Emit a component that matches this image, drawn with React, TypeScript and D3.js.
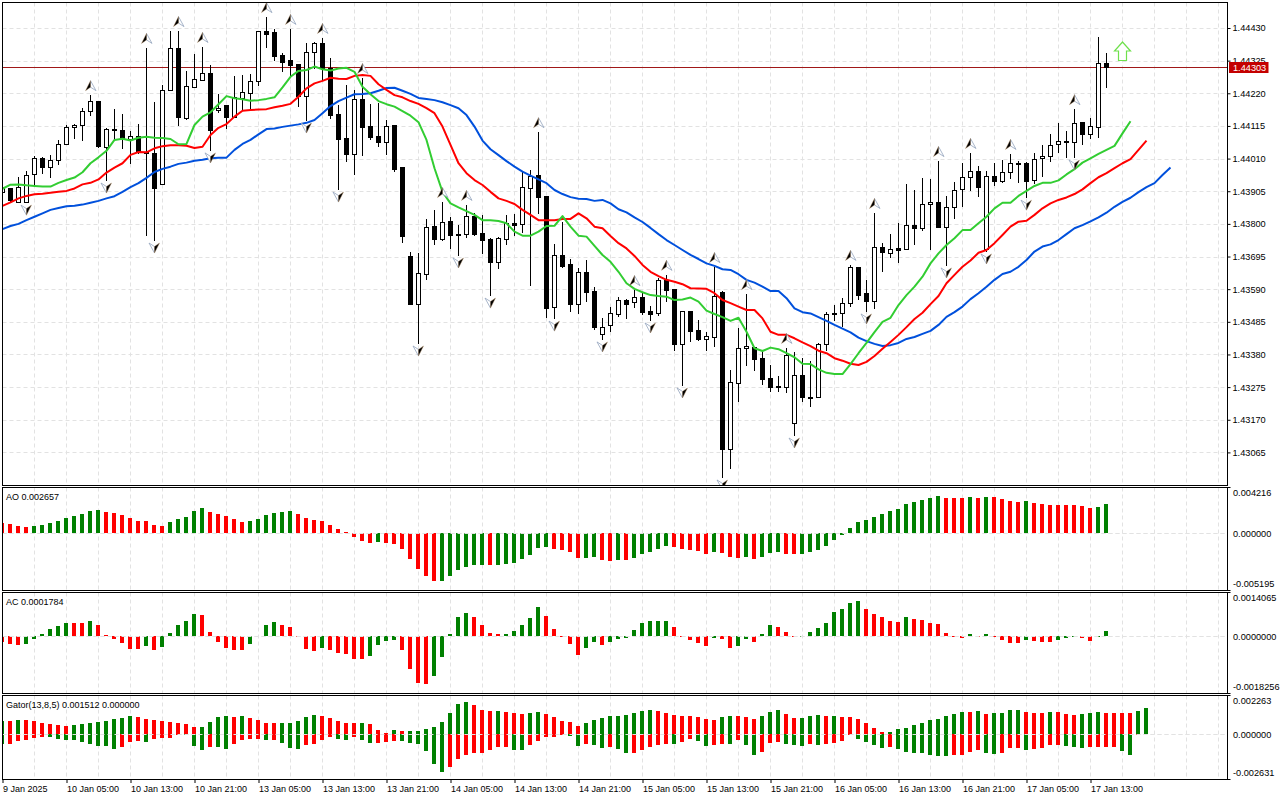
import * as d3 from 'd3'
import { useEffect, useRef } from 'react'

// prices are stored in points (1e-5)
const opens = [
  143903,143915,143870,143870,143960,144012,143983,144005,144057,144112,
  144118,144163,144195,144047,144105,144102,144073,144083,144028,144028,
  143928,144231,144366,144141,144240,144263,144285,144166,144182,144144,
  144205,144221,144260,144420,144417,144343,144327,144314,144211,144353,
  144382,144301,144153,144076,144025,144202,144115,144083,144063,144118,
  143983,143697,143542,143639,143793,143751,143809,143767,143767,143825,
  143771,143751,143677,143751,143803,143800,143915,143957,143890,143533,
  143700,143671,143542,143645,143584,143446,143475,143510,143555,143549,
  143565,143520,143513,143620,143591,143414,143520,143459,143430,143436,
  143581,143076,143288,143401,143404,143369,143304,143279,143275,143160,
  143314,143243,143243,143414,143510,143513,143546,143661,143578,143552,
  143726,143706,143722,143719,143796,143787,143864,143870,143790,143854,
  143912,143951,143970,143719,143954,143938,143967,143993,143996,143941,
  144012,144018,144057,144067,144063,144128,144089,144112,144317
]
const highs = [
  143928,143915,143951,143970,144018,144015,144022,144070,144118,144121,
  144173,144214,144195,144108,144169,144153,144099,144121,144366,144192,
  144247,144420,144420,144292,144346,144369,144311,144218,144182,144276,
  144279,144282,144420,144465,144427,144350,144427,144314,144382,144385,
  144398,144333,144182,144247,144231,144269,144186,144189,144134,144118,
  143983,143710,143706,143816,143845,143870,143822,143796,143861,143835,
  143829,143755,143758,143829,143832,143967,143973,144095,143890,143735,
  143806,143687,143658,143684,143597,143497,143533,143565,143558,143587,
  143578,143536,143626,143636,143591,143520,143520,143491,143452,143661,
  143584,143330,143465,143574,143404,143394,143346,143311,143401,143388,
  143369,143359,143417,143517,143539,143562,143668,143661,143620,143835,
  143739,143767,143803,143928,143909,143948,143944,144002,143890,143935,
  143996,144028,143986,143970,143996,144005,144025,144002,143999,144028,
  144054,144089,144124,144099,144169,144128,144141,144401,144350
]
const lows = [
  143893,143870,143870,143870,143925,143964,143951,143993,144057,144076,
  144070,144150,144047,143941,144070,144044,143996,144028,143764,143748,
  143928,144231,144118,144137,144240,144263,144038,144160,144108,144144,
  144166,144166,144247,144369,144327,144292,144272,144179,144134,144301,
  144263,144141,143912,144002,143960,144022,144073,144050,144025,143970,
  143742,143542,143417,143623,143735,143748,143722,143700,143758,143764,
  143706,143571,143658,143735,143764,143774,143603,143835,143501,143497,
  143661,143520,143513,143552,143462,143430,143456,143504,143497,143533,
  143510,143491,143507,143552,143394,143282,143423,143427,143394,143407,
  142986,143015,143230,143346,143330,143285,143263,143263,143259,143121,
  143230,143214,143243,143394,143491,143472,143536,143558,143520,143529,
  143648,143693,143677,143719,143735,143780,143719,143790,143668,143819,
  143858,143909,143890,143713,143925,143935,143948,143935,143886,143931,
  143954,144002,144031,144015,144015,144057,144076,144079,144240
]
const closes = [
  143918,143877,143919,143957,144012,143983,144005,144057,144112,144118,
  144163,144195,144050,144105,144102,144076,144083,144031,144031,143915,
  144231,144366,144144,144243,144266,144285,144102,144173,144144,144208,
  144224,144260,144420,144411,144340,144321,144311,144211,144353,144382,
  144301,144150,144073,144025,144202,144112,144079,144063,144115,143977,
  143761,143542,143642,143790,143751,143806,143764,143764,143825,143767,
  143748,143677,143755,143803,143796,143919,143954,143886,143529,143700,
  143665,143542,143645,143581,143468,143468,143513,143555,143542,143565,
  143517,143510,143620,143587,143414,143520,143456,143430,143439,143568,
  143076,143291,143401,143407,143365,143301,143275,143275,143378,143314,
  143243,143240,143414,143510,143513,143546,143661,143571,143552,143726,
  143710,143719,143716,143796,143787,143864,143870,143790,143854,143909,
  143951,143970,143919,143954,143938,143967,143996,143996,143938,144009,
  144018,144054,144067,144063,144124,144089,144115,144317,144303
]

// Alligator lines, shifted forward past the last bar
const jaw = [
  143783,143793,143800,143812,143823,143834,143845,143851,143857,143858,
  143862,143868,143874,143882,143889,143903,143918,143931,143948,143967,
  143977,143984,143993,143997,144003,144006,144011,144013,144013,144038,
  144057,144070,144088,144105,144107,144112,144116,144120,144125,144134,
  144156,144179,144195,144206,144217,144218,144220,144228,144237,144238,
  144228,144218,144205,144202,144198,144191,144182,144172,144150,144113,
  144068,144040,144021,144002,143984,143968,143955,143943,143931,143909,
  143896,143886,143881,143880,143874,143877,143866,143847,143837,143821,
  143806,143787,143767,143748,143732,143716,143700,143687,143673,143665,
  143654,143652,143638,143620,143611,143598,143584,143584,143561,143528,
  143516,143512,143500,143488,143475,143463,143451,143434,143423,143414,
  143407,143410,143417,143430,143436,143446,143456,143475,143501,143516,
  143534,143558,143577,143598,143620,143639,143646,143662,143684,143711,
  143727,143734,143748,143767,143786,143796,143808,143821,143836,143855,
  143871,143884,143902,143918,143931,143957,143981
]
const teeth = [
  143858,143869,143882,143890,143895,143897,143900,143903,143906,143914,
  143927,143932,143943,143965,143981,143995,144022,144031,144030,144043,
  144050,144053,144053,144051,144044,144048,144086,144109,144121,144145,
  144164,144166,144168,144169,144175,144180,144186,144209,144236,144252,
  144260,144270,144267,144266,144276,144279,144276,144249,144231,144214,
  144207,144195,144186,144172,144156,144113,144054,143995,143963,143941,
  143925,143903,143882,143874,143864,143845,143829,143812,143812,143812,
  143816,143816,143834,143818,143791,143786,143761,143738,143721,143697,
  143668,143646,143632,143620,143614,143606,143593,143592,143591,143577,
  143555,143545,143534,143523,143523,143496,143453,143443,143443,143432,
  143419,143407,143392,143384,143368,143360,143350,143346,143356,143375,
  143398,143420,143443,143468,143494,143514,143542,143568,143609,143636,
  143662,143682,143707,143716,143738,143764,143791,143807,143810,143829,
  143850,143866,143877,143885,143896,143911,143931,143950,143963,143979,
  143995,144008,144038,144068
]
const lips = [
  143913,143926,143927,143924,143922,143920,143920,143932,143941,143949,
  143966,143995,144014,144035,144070,144074,144068,144077,144080,144077,
  144076,144073,144056,144057,144118,144145,144159,144185,144211,144204,
  144201,144196,144198,144202,144207,144239,144273,144292,144295,144306,
  144297,144293,144300,144302,144289,144241,144217,144195,144185,144177,
  144163,144148,144127,144070,143979,143903,143866,143853,143841,143829,
  143812,143812,143809,143802,143775,143762,143762,143775,143793,143794,
  143825,143791,143762,143759,143729,143700,143678,143646,143609,143591,
  143580,143571,143568,143566,143555,143557,143563,143550,143521,143510,
  143500,143488,143498,143453,143400,143391,143402,143397,143384,143371,
  143350,143349,143332,143321,143317,143317,143349,143384,143417,143452,
  143485,143498,143539,143571,143598,143630,143673,143705,143732,143754,
  143780,143780,143802,143823,143850,143868,143868,143890,143906,143922,
  143932,143932,143940,143959,143976,143997,144011,144025,144038,144051,
  144091,144130
]

const upFractalBars = [11, 18, 22, 25, 33, 36, 40, 45, 55, 58, 67, 79, 83, 89, 93, 98, 106, 109, 117, 121, 126, 134]
const downFractalBars = [3, 13, 19, 26, 38, 42, 52, 57, 61, 69, 75, 81, 85, 90, 99, 108, 118, 123, 128, 134]
const buyArrowBar = 140
const buyArrowPrice = 144356
const lastPrice = 144303

const priceTicks = [144430, 144325, 144220, 144115, 144010, 143905, 143800, 143695, 143590, 143485, 143380, 143275, 143170, 143065]

// AO in 1e-6
const aoValues = [
  906,846,664,574,664,755,936,1117,1389,1570,
  1752,2023,2114,1933,1842,1661,1389,1117,1117,755,
  664,1027,1299,1480,2023,2295,1933,1752,1570,1299,
  1027,1117,1299,1661,1842,1933,2023,1752,1389,1208,
  1117,755,393,91,-332,-695,-876,-785,-876,-966,
  -1419,-2325,-3231,-3866,-4319,-4319,-3866,-3322,-3050,-2869,
  -2869,-2869,-2869,-2778,-2688,-2325,-1963,-1329,-1238,-1419,
  -1510,-1691,-2235,-2235,-2144,-2416,-2507,-2416,-2416,-2235,
  -1872,-1691,-1419,-1148,-1238,-1419,-1510,-1601,-1872,-1691,
  -1782,-2144,-2235,-2144,-2325,-2144,-1782,-1691,-1872,-1872,
  -1872,-1691,-1510,-1148,-604,-121,483,1027,1208,1480,
  1752,2023,2205,2657,2839,3020,3201,3382,3201,3201,
  3201,3292,3201,3292,3292,3111,2929,2839,2929,2748,
  2657,2567,2567,2567,2567,2476,2295,2386,2657
]
const aoColors = 'rrrr' + 'ggggggggg' + 'rrrrrrrr' + 'ggggg' + 'rrrrr' + 'gggggg' + 'rrrrrrrrrr' + 'g' + 'rrrrrrr' + 'gggggg' + 'r' + 'ggggggg' +
  'rrrr' + 'gg' + 'rr' + 'g' + 'r' + 'ggggg' + 'rrrrr' + 'g' + 'rrr' + 'g' + 'r' + 'ggg' + 'rr' + 'gggggggggggggggggg' +
  'rrr' + 'g' + 'r' + 'g' + 'rrrr' + 'g' + 'rrrrrrrr' + 'gg'

// AC in 1e-7
const acValues = [
  -1819,-2461,-2782,-2461,-856,749,2354,3317,4280,4280,
  4280,4922,3638,321,-856,-2140,-4066,-4066,-3103,-4387,
  -3424,1070,3638,4922,7169,6848,1391,-1819,-3745,-4387,
  -4387,-2461,214,3638,4601,3638,2996,-321,-4066,-4708,
  -3745,-4387,-5350,-5671,-7276,-7276,-6313,-2782,-1498,-1177,
  -4387,-10486,-14980,-15301,-12733,-6634,749,6206,7490,6206,
  3638,1070,749,749,1712,3638,5885,9416,6527,2354,
  -107,-2461,-5992,-3745,-1819,-2782,-1819,-856,-428,2033,
  4280,4922,4922,4922,2996,-214,-1177,-2140,-3103,-535,
  -856,-3745,-3103,-856,-1819,749,3638,2996,1391,-107,
  -107,1391,2675,4280,7811,8774,10700,11342,8774,7169,
  6206,4922,4601,6206,5564,5243,4280,3959,1070,-214,
  -535,642,-214,642,-214,-1177,-2140,-2140,-1177,-1498,
  -1819,-1819,-1177,-535,-214,-535,-1498,-214,1784
]
const acColors = 'rrr' + 'gggggg' + 'rr' + 'g' + 'rrrrrr' + 'g' + 'r' + 'ggggg' + 'rrrrrr' + 'gggg' + 'rrrrr' + 'g' + 'rrrrr' + 'gggg' + 'rrrr' +
  'ggggg' + 'rrrr' + 'ggggg' + 'rrrrr' + 'gg' + 'r' + 'gggggggg' + 'rrrrr' + 'g' + 'rr' + 'gg' + 'r' + 'gg' + 'rrr' + 'gggggggg' +
  'rrrrr' + 'g' + 'rrrrrrr' + 'grg' + 'rrrr' + 'g' + 'rrr' + 'ggg' + 'rr' + 'gg'

// Gator in 1e-6, lower side already negative
const gatorUp = [
  761,761,819,819,761,644,585,527,468,527,
  585,644,702,761,878,936,1053,995,878,819,
  761,702,644,585,410,410,702,995,1053,995,
  1053,936,819,644,644,644,644,761,995,1112,
  1053,936,761,644,644,644,585,234,58,234,
  176,176,176,293,410,702,1229,1755,1872,1697,
  1404,1346,1346,1287,1229,1170,1229,1287,1170,995,
  761,702,468,644,819,936,1053,1053,1112,1229,
  1346,1404,1346,1229,1112,1053,1053,995,878,819,
  995,1053,1053,995,878,1053,1287,1404,1170,936,
  936,1053,1112,1053,1053,995,995,878,644,351,
  117,117,293,351,527,644,819,878,1053,1170,
  1287,1287,1346,1170,1229,1229,1404,1404,1287,1229,
  1229,1287,1287,1170,1112,1170,1229,1287,1229,1229,
  1229,1229,1346,1512
]
const gatorDown = [
  -585,-585,-410,-351,-234,-176,-176,-293,-351,-351,
  -468,-585,-702,-702,-878,-761,-468,-410,-468,-293,
  -234,-234,-58,-58,-702,-936,-761,-761,-878,-585,
  -351,-293,-293,-351,-351,-527,-819,-878,-644,-585,
  -351,-176,-293,-351,-176,-351,-527,-527,-468,-410,
  -410,-527,-585,-995,-1755,-2223,-1931,-1463,-1229,-1112,
  -1112,-936,-761,-761,-936,-936,-644,-410,-176,-176,
  -58,-117,-702,-585,-644,-819,-761,-878,-1112,-1112,
  -936,-761,-644,-585,-585,-468,-293,-410,-702,-644,
  -585,-585,-351,-644,-1229,-1053,-527,-468,-585,-644,
  -702,-585,-644,-585,-527,-410,-58,-293,-468,-644,
  -819,-761,-878,-1053,-1112,-1112,-1229,-1287,-1287,-1229,
  -1229,-1053,-936,-1112,-1170,-1112,-819,-819,-936,-878,
  -819,-644,-644,-702,-761,-819,-761,-761,-761,-761,
  -995,-1229,-58,0
]
const gatorUpColors = 'g' + 'r' + 'g' + 'rrrrrr' + 'gggggggg' + 'rrrrrrrr' + 'gggg' + 'r' + 'g' + 'rrrr' + 'ggggg' + 'rrrrr' + 'g' + 'rrr' + 'g' + 'r' +
  'gggggggg' + 'rrr' + 'g' + 'rrr' + 'gg' + 'rrrrr' + 'ggggggggg' + 'rrrrrrrr' + 'gg' + 'rrr' + 'ggg' + 'rr' + 'ggg' + 'r' + 'g' + 'rrrrrr' +
  'gggggggggg' + 'r' + 'g' + 'r' + 'gggg' + 'rrr' + 'g' + 'rrr' + 'ggg' + 'rrrr' + 'gg'
const gatorDownColors = 'g' + 'rrrrr' + 'ggggggggg' + 'rrr' + 'g' + 'rrrr' + 'ggg' + 'r' + 'gg' + 'rrrr' + 'g' + 'r' + 'ggg' + 'rrrr' + 'gg' + 'r' + 'gg' + 'rrr' +
  'gggggg' + 'rrrrrrrr' + 'gg' + 'rrrrr' + 'gg' + 'r' + 'gg' + 'r' + 'gg' + 'rrrrr' + 'g' + 'rr' + 'gg' + 'rr' + 'g' + 'r' + 'gg' + 'rrr' + 'ggg' + 'r' + 'g' +
  'rrrr' + 'gggg' + 'r' + 'ggggggg' + 'rrrr' + 'gg' + 'rrr' + 'g' + 'rrrr' + 'ggg' + 'rrrr' + 'gg' + 'rr'

const timeLabels = [
  '9 Jan 2025', '10 Jan 05:00', '10 Jan 13:00', '10 Jan 21:00', '13 Jan 05:00', '13 Jan 13:00',
  '13 Jan 21:00', '14 Jan 05:00', '14 Jan 13:00', '14 Jan 21:00', '15 Jan 05:00', '15 Jan 13:00',
  '15 Jan 21:00', '16 Jan 05:00', '16 Jan 13:00', '16 Jan 21:00', '17 Jan 05:00', '17 Jan 13:00'
]

const FONT = '"Liberation Sans", sans-serif'
const GRID = '#e2e2e2'
const UP = '#008000'
const DOWN = '#ff0000'
const LEFT = 2.5
const RIGHT = 1227.5

const Chart = () => {
  const ref = useRef<SVGSVGElement>(null)

  useEffect(() => {
    if (!ref.current) return
    const svg = d3.select(ref.current)
    svg.selectAll('*').remove()

    const x = d3.scaleLinear().domain([0, 153]).range([2.5, 2.5 + 8 * 153])
    const y = d3.scaleLinear().domain([144430, 143065]).range([28, 452.4])

    const defs = svg.append('defs')
    const addClip = (id: string, top: number, bottom: number) => {
      defs.append('clipPath').attr('id', id).append('rect')
        .attr('x', LEFT).attr('y', top).attr('width', RIGHT - LEFT).attr('height', bottom - top)
    }

    const verticalGrid = (g: any, top: number, bottom: number) => {
      g.selectAll('.vgrid')
        .data(d3.range(0, 153, 4))
        .enter()
        .append('line')
        .attr('class', 'vgrid')
        .attr('x1', (d: number) => x(d))
        .attr('x2', (d: number) => x(d))
        .attr('y1', top)
        .attr('y2', bottom)
        .attr('stroke', GRID)
        .attr('stroke-dasharray', '4,3')
    }

    // Main price window
    const mainTop = 2.5
    const mainBottom = 485.5
    addClip('clip-main', mainTop, mainBottom)
    const main = svg.append('g').attr('clip-path', 'url(#clip-main)')
    verticalGrid(main, mainTop, mainBottom)

    main.selectAll('.hgrid')
      .data(priceTicks)
      .enter()
      .append('line')
      .attr('class', 'hgrid')
      .attr('x1', LEFT)
      .attr('x2', RIGHT)
      .attr('y1', d => Math.round(y(d)) + 0.5)
      .attr('y2', d => Math.round(y(d)) + 0.5)
      .attr('stroke', GRID)
      .attr('stroke-dasharray', '4,3')

    // Last price line
    const lastY = Math.floor(y(lastPrice)) + 0.5
    main.append('line')
      .attr('x1', LEFT)
      .attr('x2', RIGHT)
      .attr('y1', lastY)
      .attr('y2', lastY)
      .attr('stroke', '#a01818')

    // Candles
    const bars = d3.range(opens.length)
    const candles = main.append('g').attr('shape-rendering', 'crispEdges')
    candles.selectAll('.wick')
      .data(bars)
      .enter()
      .append('line')
      .attr('class', 'wick')
      .attr('x1', d => x(d))
      .attr('x2', d => x(d))
      .attr('y1', d => Math.round(y(highs[d])))
      .attr('y2', d => Math.round(y(lows[d])) + 1)
      .attr('stroke', '#000')
    candles.selectAll('.body')
      .data(bars)
      .enter()
      .append('rect')
      .attr('class', 'body')
      .attr('x', d => x(d) - 2)
      .attr('y', d => Math.round(y(Math.max(opens[d], closes[d]))) + 0.5)
      .attr('width', 4)
      .attr('height', d => Math.round(Math.abs(y(opens[d]) - y(closes[d]))))
      .attr('fill', d => (closes[d] >= opens[d] ? '#fff' : '#000'))
      .attr('stroke', '#000')

    // Alligator lines
    const lineFor = d3.line<number>().x((_, i) => x(i)).y(d => y(d))
    const alligator: [number[], string][] = [[jaw, '#0050dc'], [teeth, '#ff0000'], [lips, '#32cd32']]
    alligator.forEach(([values, color]) => {
      main.append('path')
        .attr('d', lineFor(values))
        .attr('fill', 'none')
        .attr('stroke', color)
        .attr('stroke-width', 2)
        .attr('stroke-linejoin', 'round')
    })

    // Fractal darts
    const dart = (sel: any, flip: boolean) => {
      const k = flip ? -1 : 1
      sel.append('polygon')
        .attr('points', `0,${-5.5 * k} ${5.5 * k},${4.5 * k} 0,${1 * k}`)
        .attr('fill', '#fff')
        .attr('stroke', '#93a3bd')
        .attr('stroke-width', 0.8)
      sel.append('polygon')
        .attr('points', `0,${-5.5 * k} ${-5 * k},${4.5 * k} 0,${1 * k}`)
        .attr('fill', '#000')
        .attr('stroke', '#b08a60')
        .attr('stroke-width', 0.4)
    }
    const ups = main.selectAll('.up-fractal')
      .data(upFractalBars)
      .enter()
      .append('g')
      .attr('class', 'up-fractal')
      .attr('transform', d => `translate(${x(d)},${y(highs[d]) - 9})`)
    dart(ups, false)
    const downs = main.selectAll('.down-fractal')
      .data(downFractalBars)
      .enter()
      .append('g')
      .attr('class', 'down-fractal')
      .attr('transform', d => `translate(${x(d)},${y(lows[d]) + 7.5})`)
    dart(downs, true)

    // Buy signal arrow
    main.append('polygon')
      .attr('transform', `translate(${x(buyArrowBar)},${y(buyArrowPrice)})`)
      .attr('points', '0,-9 8,0 4,0 4,9.5 -4,9.5 -4,0 -8,0')
      .attr('fill', '#fff')
      .attr('stroke', '#6fe04c')
      .attr('stroke-width', 1.2)

    svg.append('rect')
      .attr('x', LEFT).attr('y', mainTop)
      .attr('width', RIGHT - LEFT).attr('height', mainBottom - mainTop)
      .attr('fill', 'none').attr('stroke', '#000')

    // Price axis
    const priceAxis = svg.append('g')
      .attr('transform', `translate(${RIGHT},0)`)
      .call(d3.axisRight(y).tickValues(priceTicks).tickSize(3).tickPadding(2).tickFormat(d => (+d / 1e5).toFixed(5)))
    priceAxis.select('.domain').remove()
    priceAxis.selectAll('text')
      .style('font-size', '9.2px')
      .style('font-family', FONT)
      .style('fill', '#000')
    priceAxis.selectAll('line').attr('stroke', '#000')

    svg.append('rect')
      .attr('x', RIGHT + 1.5)
      .attr('y', lastY - 5.5)
      .attr('width', 39.5)
      .attr('height', 11)
      .attr('fill', '#c40000')
    svg.append('text')
      .attr('x', RIGHT + 5.5)
      .attr('y', lastY + 3.5)
      .style('font-size', '9.2px')
      .style('font-family', FONT)
      .style('fill', '#fff')
      .text((lastPrice / 1e5).toFixed(5))

    // Indicator windows
    const panels = [
      {
        id: 'ao', title: 'AO 0.002657', top: 487.5, bottom: 590.5,
        domain: [-5195, 4216], range: [590.7, 486.8],
        labels: ['0.004216', '0.000000', '-0.005195'],
        series: [{ values: aoValues, colors: aoColors }]
      },
      {
        id: 'ac', title: 'AC 0.0001784', top: 592.5, bottom: 693.5,
        domain: [-18256, 14065], range: [693.3, 592.5],
        labels: ['0.0014065', '0.0000000', '-0.0018256'],
        series: [{ values: acValues, colors: acColors }]
      },
      {
        id: 'gator', title: 'Gator(13,8,5) 0.001512 0.000000', top: 695.5, bottom: 779.5,
        domain: [-2631, 2263], range: [779.2, 695.5],
        labels: ['0.002263', '0.000000', '-0.002631'],
        series: [{ values: gatorUp, colors: gatorUpColors }, { values: gatorDown, colors: gatorDownColors }]
      }
    ]

    panels.forEach(p => {
      const py = d3.scaleLinear().domain(p.domain).range(p.range)
      const zero = Math.round(py(0)) + 0.5
      addClip(`clip-${p.id}`, p.top, p.bottom)
      const g = svg.append('g').attr('clip-path', `url(#clip-${p.id})`)
      verticalGrid(g, p.top, p.bottom)

      const zeroLine = (layer: any) => layer.append('line')
        .attr('x1', LEFT)
        .attr('x2', RIGHT)
        .attr('y1', zero)
        .attr('y2', zero)
        .attr('stroke', GRID)
        .attr('stroke-dasharray', '4,3')
      zeroLine(g)

      p.series.forEach(s => {
        g.append('g')
          .attr('shape-rendering', 'crispEdges')
          .selectAll('rect')
          .data(s.values)
          .enter()
          .append('rect')
          .attr('x', (_, i) => x(i) - 2.5)
          .attr('width', 4)
          .attr('y', d => Math.min(py(d), py(0)))
          .attr('height', d => Math.abs(py(d) - py(0)))
          .attr('fill', (_, i) => (s.colors[i] === 'g' ? UP : DOWN))
      })
      zeroLine(g)

      svg.append('rect')
        .attr('x', LEFT).attr('y', p.top)
        .attr('width', RIGHT - LEFT).attr('height', p.bottom - p.top)
        .attr('fill', 'none').attr('stroke', '#000')

      svg.append('text')
        .attr('x', 6)
        .attr('y', p.top + 12)
        .style('font-size', '9px')
        .style('font-family', FONT)
        .text(p.title)

      const labelYs = [p.top + 8, zero + 3, p.bottom - 3.5]
      p.labels.forEach((label, i) => {
        svg.append('text')
          .attr('x', RIGHT + 5.5)
          .attr('y', labelYs[i])
          .style('font-size', '9.2px')
          .style('font-family', FONT)
          .text(label)
      })
      ;[p.top, p.bottom].forEach(t => {
        svg.append('line')
          .attr('x1', RIGHT)
          .attr('x2', RIGHT + 3)
          .attr('y1', t)
          .attr('y2', t)
          .attr('stroke', '#000')
      })
    })

    // Time axis
    const timeAxis = svg.append('g')
      .attr('transform', 'translate(0,779.5)')
      .call(
        d3.axisBottom(x)
          .tickValues(timeLabels.map((_, k) => k * 8))
          .tickSize(3.5)
          .tickPadding(3)
          .tickFormat((_, k) => timeLabels[k])
      )
    timeAxis.select('.domain').remove()
    timeAxis.selectAll('line').attr('stroke', '#000')
    timeAxis.selectAll('text')
      .attr('text-anchor', 'start')
      .style('font-size', '9px')
      .style('font-family', FONT)
      .style('fill', '#000')
  }, [])

  return (
    <svg
      ref={ref}
      width={1280}
      height={800}
      style={{ position: 'absolute', left: 0, top: 0, display: 'block', background: '#fff' }}
    />
  )
}

export default function App() {
  return <Chart />
}
